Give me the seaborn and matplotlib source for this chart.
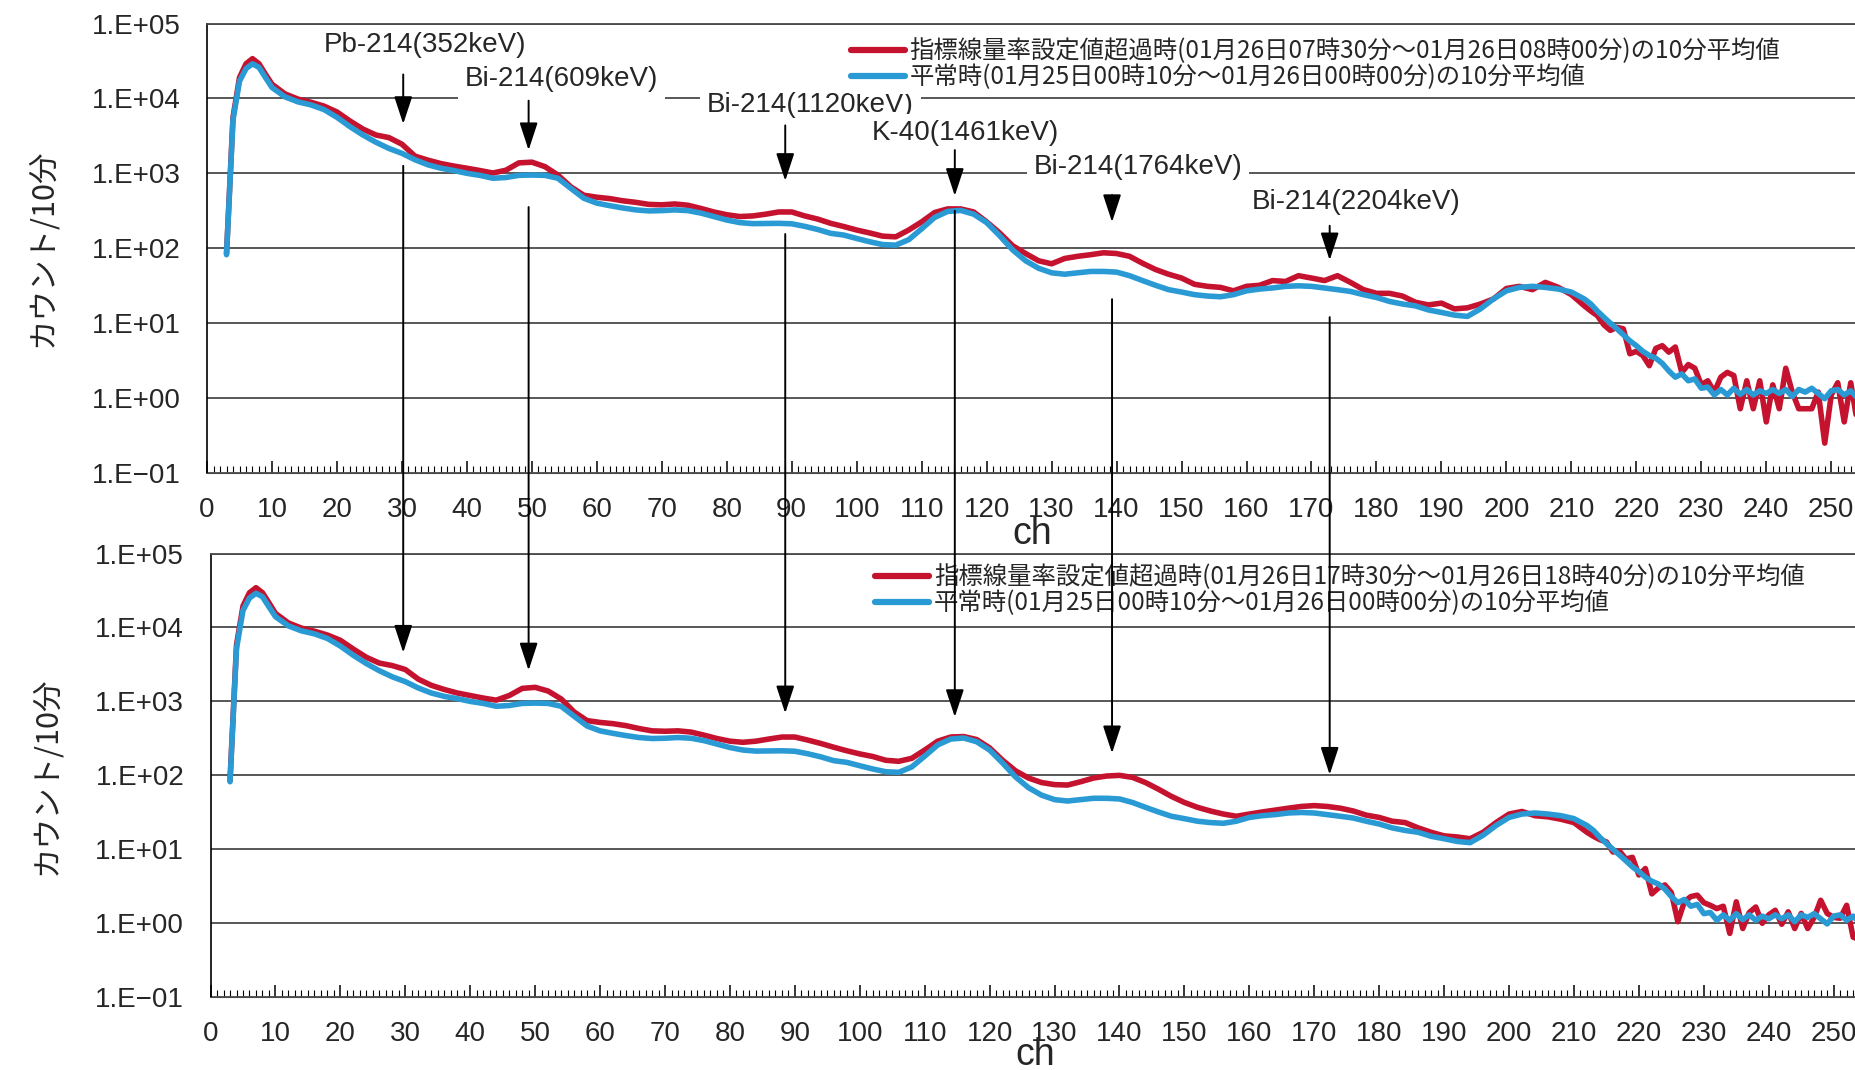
import matplotlib
matplotlib.use("Agg")
import matplotlib.pyplot as plt
import matplotlib.transforms as mtransforms
from matplotlib.patches import ConnectionPatch
from matplotlib.ticker import MultipleLocator, NullLocator
import seaborn as sns

sns.set_style("white")
plt.rcParams["font.family"] = ["Liberation Sans", "Noto Sans CJK JP", "DejaVu Sans"]
JP = ["Noto Sans CJK JP", "DejaVu Sans"]

# channel numbers (dense in the noisy tail)
channels = [3, 4, 5, 6, 7, 8, 9, 10] + list(range(12, 213, 2)) + list(range(213, 255))

# normal-time 10 min average (same series in both panels)
normal = [
    82, 5200, 17000, 25000, 29000, 26000, 19000, 14000,
    10500, 9000, 8200, 7100, 5600, 4200, 3250, 2600, 2150, 1850,
    1520, 1300, 1170, 1090, 1000, 940, 860, 880, 940, 950,
    940, 860, 630, 465, 400, 370, 345, 325, 315, 318,
    325, 318, 295, 265, 238, 220, 213, 214, 215, 212,
    196, 178, 158, 150, 135, 122, 112, 110, 130, 182,
    258, 310, 320, 285, 220, 147, 95, 68, 54, 47,
    45, 47, 49, 49, 48, 43, 37, 32, 28, 26,
    24, 23, 22.5, 24, 27, 28.5, 29.5, 31, 31.5, 31,
    29.5, 28, 26.5, 24, 22, 19.5, 18, 17, 15, 13.9,
    12.8, 12.3, 15.5, 21, 27, 30, 31, 30, 28.5, 26,
    21,
    18, 14.5, 12, 10, 8.4, 7, 5.8, 5.0, 4.2, 3.7,
    3.4, 2.9, 2.3, 1.9, 2.1, 1.7, 1.8, 1.35, 1.4, 1.1,
    1.3, 1.1, 1.35, 1.12, 1.3, 1.1, 1.25, 1.15, 1.3, 1.15,
    1.3, 1.05, 1.3, 1.2, 1.35, 1.15, 0.98, 1.25, 1.3, 1.1,
    1.25, 1.0,
]

# exceedance 01/26 07:30-08:00
exceed_am = [
    85, 5600, 19000, 29000, 34000, 29000, 21000, 15500,
    11500, 9800, 8900, 7900, 6600, 5000, 3900, 3250, 3000, 2450,
    1700, 1500, 1350, 1250, 1170, 1090, 1010, 1100, 1380, 1410,
    1230, 950, 660, 510, 480, 460, 430, 410, 385, 380,
    390, 375, 340, 305, 280, 265, 270, 285, 305, 305,
    270, 245, 215, 195, 175, 160, 145, 142, 175, 225,
    300, 335, 335, 305, 225, 160, 108, 85, 68, 62,
    73, 78, 82, 87, 85, 78, 63, 52, 45, 40,
    33, 31, 30, 27, 31, 32, 37, 36, 43, 40,
    37, 43, 35, 28, 25, 25, 23, 19, 17.5, 18.5,
    15.5, 16, 18, 21, 29, 31, 28, 35, 30, 24,
    17,
    14.5, 12.6, 9.5, 8, 8.8, 8.4, 3.9, 4.2, 3.7, 2.7,
    4.6, 5.0, 4.1, 4.8, 2.2, 2.8, 2.5, 1.5, 1.7, 1.2,
    1.9, 2.2, 2.0, 0.72, 1.7, 0.72, 1.7, 0.48, 1.5, 0.72,
    2.5, 1.2, 0.72, 0.72, 0.72, 1.2, 0.25, 1.1, 1.6, 0.48,
    1.6, 0.48,
]

# exceedance 01/26 17:30-18:40
exceed_pm = [
    85, 5800, 19500, 29500, 34500, 29500, 21500, 15500,
    11500, 9800, 8900, 7900, 6700, 5100, 3950, 3300, 3050, 2700,
    2000, 1650, 1450, 1300, 1200, 1110, 1040, 1200, 1500, 1550,
    1380, 1080, 720, 550, 520, 500, 470, 430, 400, 395,
    400, 385, 350, 315, 290, 280, 290, 310, 330, 330,
    300, 270, 240, 215, 195, 180, 160, 155, 170, 220,
    290, 330, 335, 305, 235, 160, 115, 92, 80, 75,
    74, 82, 92, 98, 100, 94, 80, 65, 52, 43,
    37, 33, 30, 28, 30, 32, 34, 36, 38, 39,
    38, 36, 33, 29, 27, 24, 23, 19.5, 17, 15.2,
    14.7, 13.9, 17, 23, 30, 32.5, 28.5, 27.5, 25.5, 23,
    17,
    15, 13.5, 12.6, 9.2, 9.5, 7.4, 7.8, 4.5, 5.5, 2.5,
    3.0, 3.3, 2.6, 1.05, 1.95, 2.3, 2.4, 1.9, 1.75, 1.58,
    1.7, 0.73, 1.95, 0.85, 1.4, 1.66, 1.0, 1.3, 1.5, 0.97,
    1.43, 0.85, 1.36, 0.85, 1.2, 2.05, 1.36, 1.2, 1.17, 1.75,
    0.65, 0.6,
]

label_am = "指標線量率設定値超過時(01月26日07時30分～01月26日08時00分)の10分平均値"
label_pm = "指標線量率設定値超過時(01月26日17時30分～01月26日18時40分)の10分平均値"
label_normal = "平常時(01月25日00時10分～01月26日00時00分)の10分平均値"

yticks = [1e-1, 1e0, 1e1, 1e2, 1e3, 1e4, 1e5]
ytick_labels = ["1.E−01", "1.E+00", "1.E+01", "1.E+02", "1.E+03", "1.E+04", "1.E+05"]

peak_labels = ["Pb-214(352keV)", "Bi-214(609keV)", "Bi-214(1120keV)",
               "K-40(1461keV)", "Bi-214(1764keV)", "Bi-214(2204keV)"]
peak_ch = [30.2, 49.5, 89.0, 115.1, 139.3, 172.8]

# annotation layout (channel / log10 count positions)
label_x = [33.5, 54.6, 92.9, 116.7, 143.3, 176.8]
label_y = [4.716, 4.258, 3.91, 3.532, 3.09, 2.616]
short_arrow = [(4.32, 3.66), (3.97, 3.31), (3.64, 2.90), (3.31, 2.70), (2.71, 2.35), (2.30, 1.84)]
long_start = [3.10, 2.55, 2.19, 2.50, 1.32, 1.08]
long_end = [3.66, 3.42, 2.84, 2.79, 2.30, 2.01]

RED = "#C4122F"
BLUE = "#2A9AD4"
GRID = "#4a4a4a"

fig = plt.figure(figsize=(18.55, 10.70), dpi=100)
ax1 = fig.add_axes([0.1116, 0.558, 0.8896, 0.420])
ax2 = fig.add_axes([0.1135, 0.068, 0.889, 0.4147])


def style_axis(ax, red, red_label, label_y_pos):
    sns.lineplot(x=channels, y=red, ax=ax, color=RED, lw=4, label=red_label,
                 estimator=None, sort=False, zorder=4)
    sns.lineplot(x=channels, y=normal, ax=ax, color=BLUE, lw=4, label=label_normal,
                 estimator=None, sort=False, zorder=5)
    for ln in ax.get_lines():
        ln.set_solid_joinstyle("round")
    ax.set_yscale("log")
    ax.set_ylim(1e-1, 1e5)
    ax.set_xlim(0, 254)
    ax.set_yticks(yticks)
    ax.set_yticklabels(ytick_labels)
    ax.yaxis.set_minor_locator(NullLocator())
    ax.xaxis.set_major_locator(MultipleLocator(10))
    ax.xaxis.set_minor_locator(MultipleLocator(1))
    ax.tick_params(axis="x", which="both", bottom=True, top=False)
    ax.tick_params(axis="x", which="major", direction="in", length=9, width=1.1,
                   pad=17, labelsize=20, color="black")
    ax.tick_params(axis="x", which="minor", direction="in", length=5, width=0.8, color="black")
    ax.tick_params(axis="y", which="both", length=0, pad=19, labelsize=20)
    ax.grid(axis="y", which="major", color=GRID, lw=1.3)
    ax.grid(axis="x", visible=False)
    ax.set_axisbelow(True)
    ax.spines["right"].set_visible(False)
    ax.spines["top"].set_color(GRID)
    ax.spines["top"].set_linewidth(1.3)
    ax.spines["bottom"].set_color(GRID)
    ax.spines["left"].set_color("black")
    ax.spines["left"].set_linewidth(1.2)
    ax.set_xlabel("ch", fontsize=27)
    ax.xaxis.set_label_coords(0.5, label_y_pos)
    ax.xaxis.label.set_va("center")
    ax.set_ylabel("カウント/10分", fontsize=22, family=JP, labelpad=24)


style_axis(ax1, exceed_am, label_am, -0.136)
style_axis(ax2, exceed_pm, label_pm, -0.130)

leg_kw = dict(loc="upper left", frameon=True, framealpha=1, facecolor="white",
              edgecolor="none", prop={"family": JP, "size": 17.6}, handlelength=2.2,
              handletextpad=0.2, borderpad=0.15, labelspacing=0.0, borderaxespad=0)
leg1 = ax1.legend(bbox_to_anchor=(0.388, 0.975), **leg_kw)
leg2 = ax2.legend(bbox_to_anchor=(0.401, 0.984), **leg_kw)
for leg in (leg1, leg2):
    leg.set_zorder(6)
    for h in leg.get_lines():
        h.set_linewidth(4.5)

# peak labels and arrows
for name, xc, lx, ly, (s0, s1), l0, l1 in zip(peak_labels, peak_ch, label_x, label_y,
                                                short_arrow, long_start, long_end):
    ax1.text(lx, 10 ** ly, name, ha="center", va="center", fontsize=20, zorder=3,
             bbox=dict(facecolor="white", edgecolor="none", pad=5))
    ax1.annotate("", xy=(xc, 10 ** s1), xytext=(xc, 10 ** s0),
                 arrowprops=dict(arrowstyle="-|>,head_length=0.85,head_width=0.28",
                                 mutation_scale=20, color="black", lw=1.4, shrinkA=0, shrinkB=0),
                 zorder=6)
    trans_b = mtransforms.blended_transform_factory(ax1.transData, ax2.transData)
    con = ConnectionPatch(xyA=(xc, 10 ** l0), coordsA=ax1.transData,
                          xyB=(xc, 10 ** l1), coordsB=trans_b,
                          arrowstyle="-|>,head_length=0.85,head_width=0.28",
                          mutation_scale=20, color="black", lw=1.4, shrinkA=0, shrinkB=0,
                          zorder=7)
    fig.add_artist(con)

fig.savefig("out.png", dpi=100)
